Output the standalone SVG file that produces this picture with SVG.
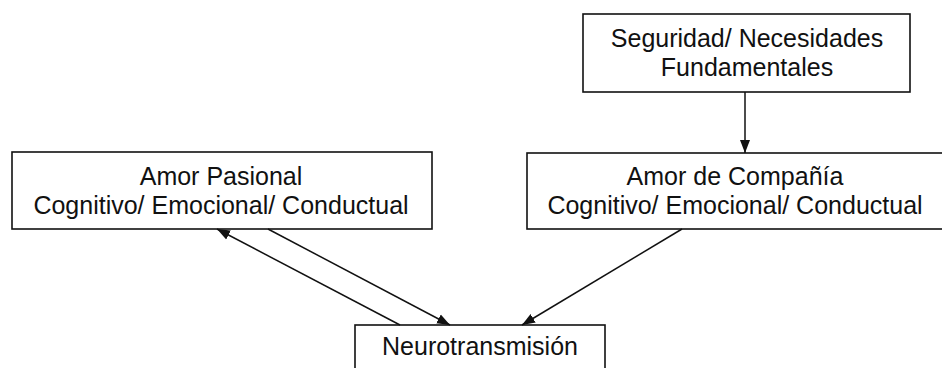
<svg xmlns="http://www.w3.org/2000/svg" width="942" height="368" viewBox="0 0 942 368">
<style>
.box{fill:#fff;stroke:#111;stroke-width:1.6}
.t{font-family:"Liberation Sans",Arial,sans-serif;font-size:25px;fill:#111;text-anchor:middle}
.c{stroke:#111;stroke-width:1.5;fill:none}
</style>
<defs>
<marker id="ah" markerUnits="userSpaceOnUse" markerWidth="14" markerHeight="12" viewBox="0 0 14 12" refX="13" refY="6" orient="auto">
<path d="M0,1 L13,6 L0,11 Z" fill="#111"/>
</marker>
</defs>
<rect width="942" height="368" fill="#fff"/>
<g id="seguridad">
<rect class="box" x="583" y="14" width="327" height="78"/>
<text class="t" x="747" y="47">Seguridad/ Necesidades</text>
<text class="t" x="747" y="76">Fundamentales</text>
</g>
<g id="amor-pasional">
<rect class="box" x="12" y="152" width="420" height="77"/>
<text class="t" x="221" y="185">Amor Pasional</text>
<text class="t" x="221" y="214">Cognitivo/ Emocional/ Conductual</text>
</g>
<g id="amor-compania">
<rect class="box" x="527" y="153" width="418" height="76"/>
<text class="t" x="735" y="185">Amor de Compañía</text>
<text class="t" x="735" y="214">Cognitivo/ Emocional/ Conductual</text>
</g>
<g id="neurotransmision">
<rect class="box" x="355" y="325" width="250" height="60"/>
<text class="t" x="480" y="355">Neurotransmisión</text>
</g>
<g id="connectors">
<line class="c" x1="745" y1="92" x2="745" y2="153" marker-end="url(#ah)"/>
<line class="c" x1="400" y1="325" x2="217" y2="229" marker-end="url(#ah)"/>
<line class="c" x1="268" y1="229" x2="450" y2="325" marker-end="url(#ah)"/>
<line class="c" x1="682" y1="229" x2="522" y2="325" marker-end="url(#ah)"/>
</g>
</svg>
